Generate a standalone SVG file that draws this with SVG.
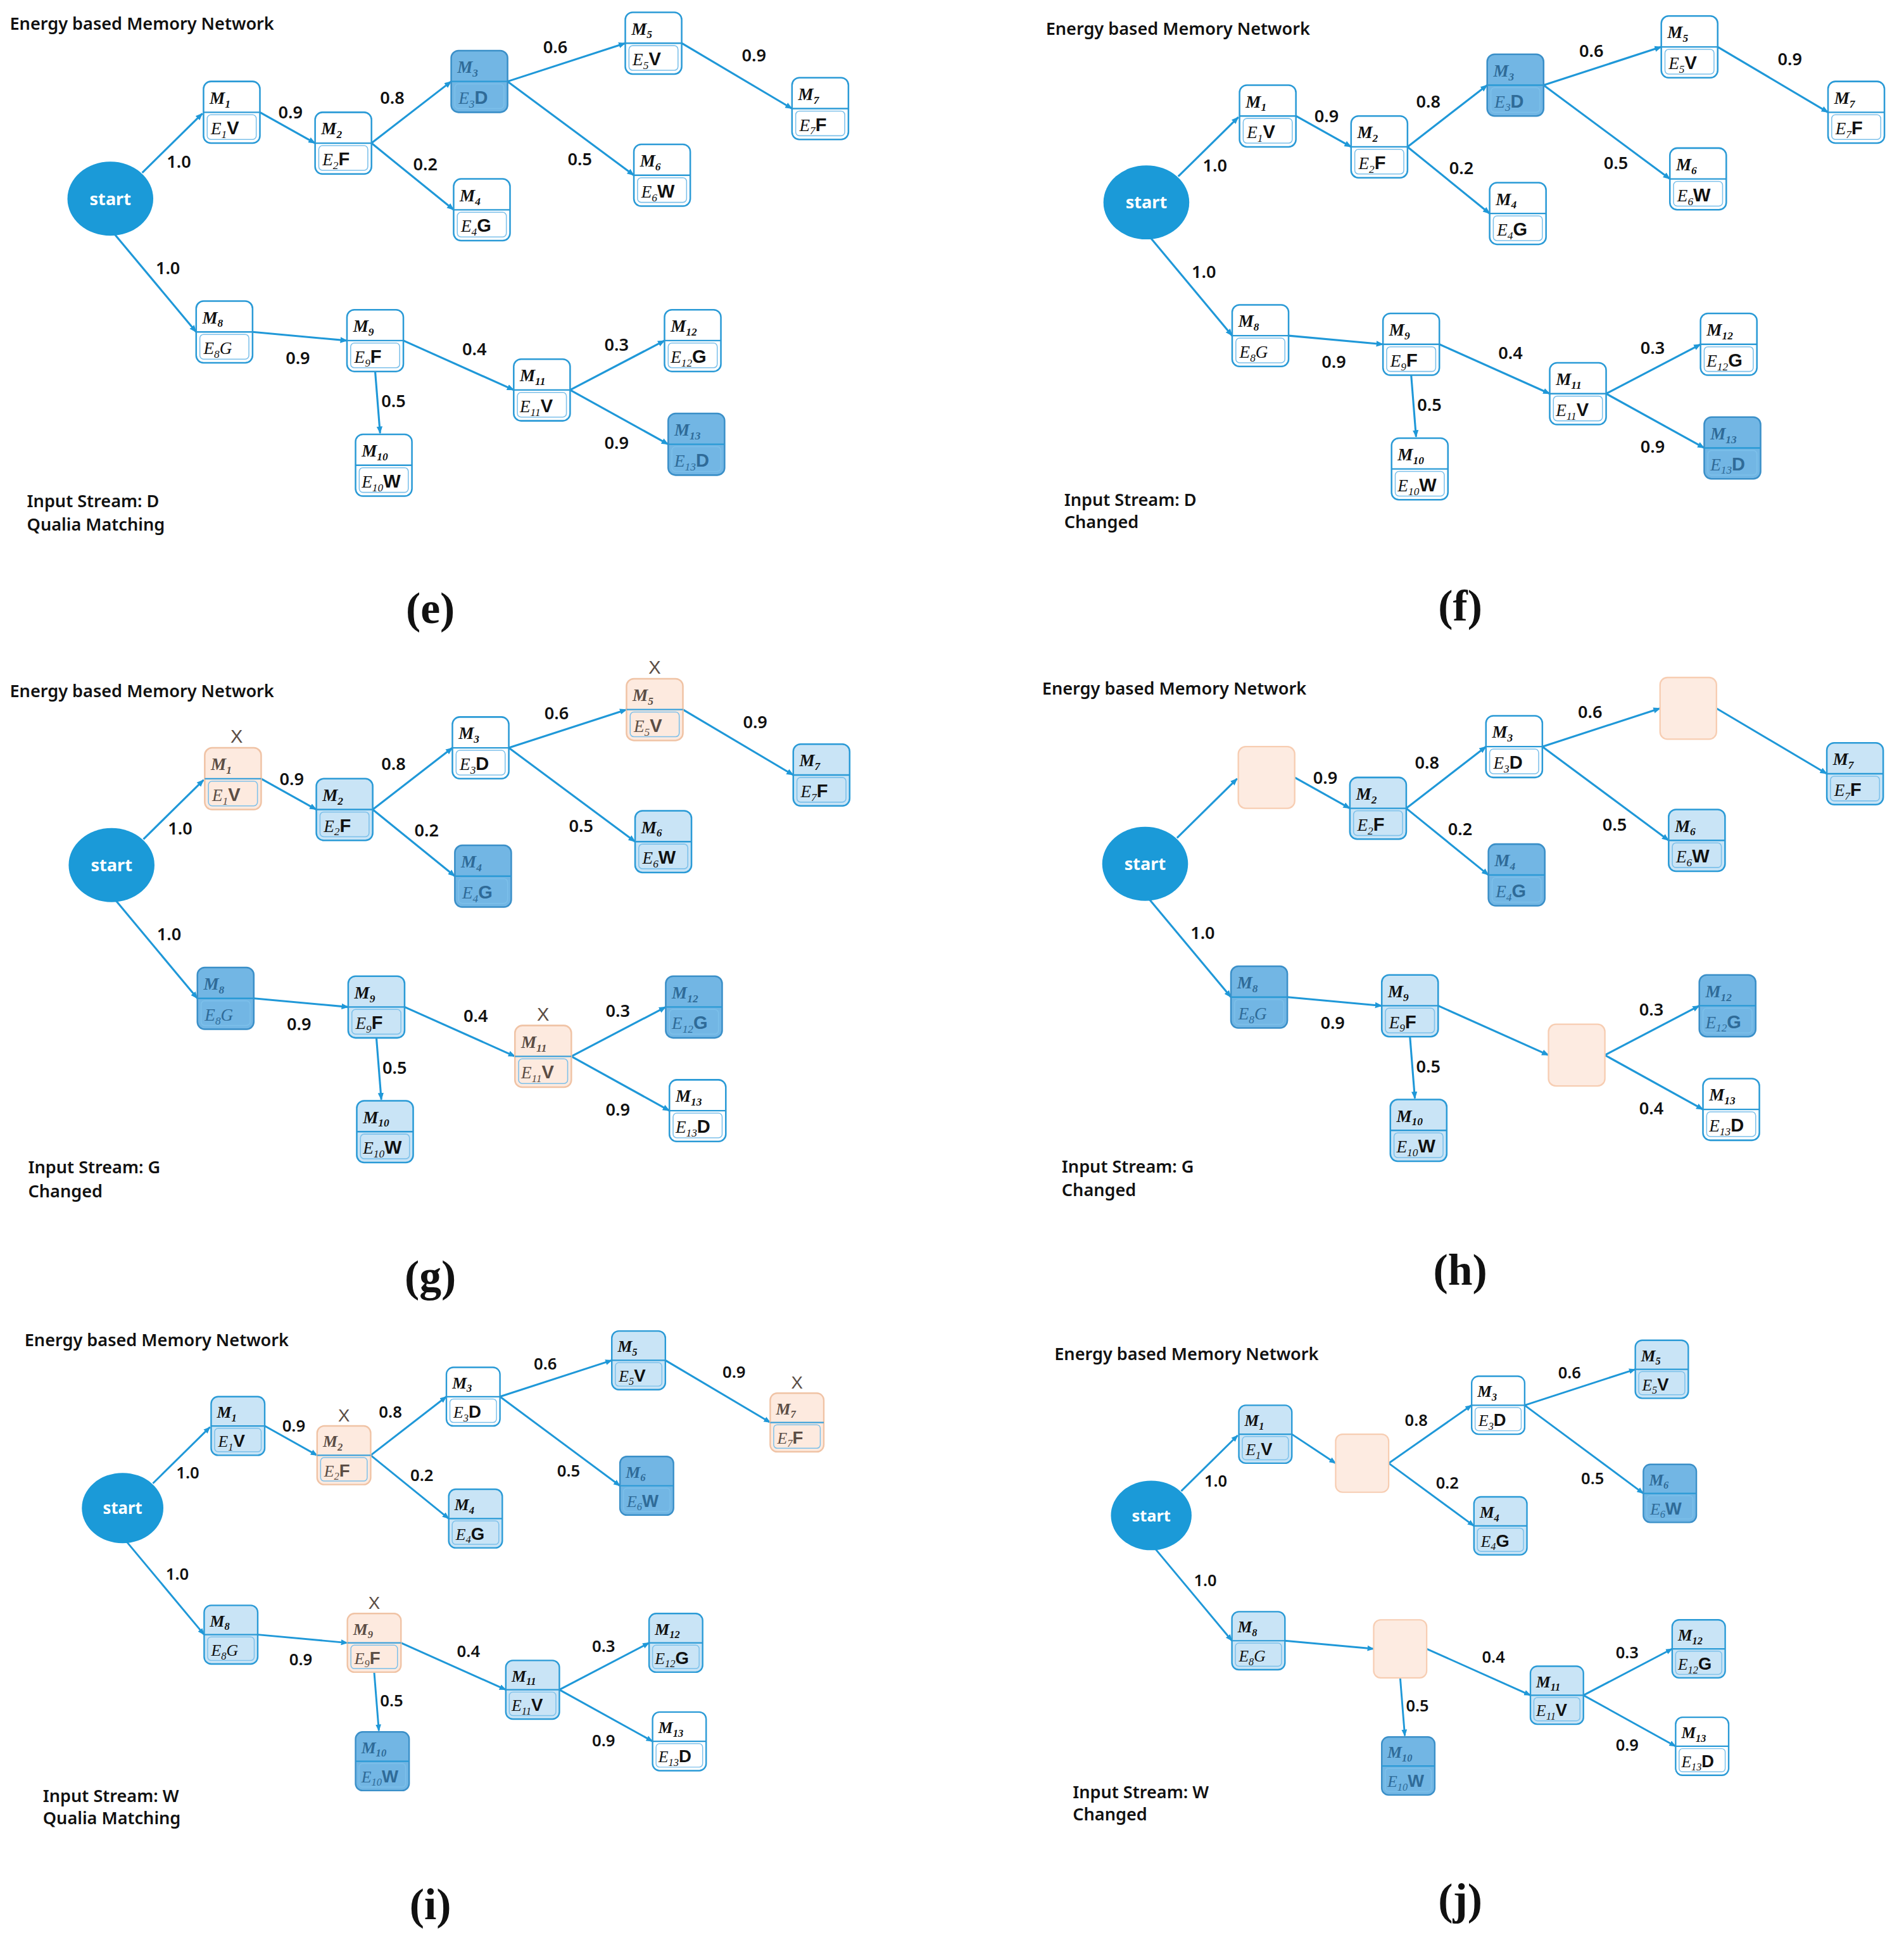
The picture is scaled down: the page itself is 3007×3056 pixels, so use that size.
<svg xmlns="http://www.w3.org/2000/svg" width="3007" height="3056" viewBox="0 0 3007 3056">
<style>
.o{stroke:#2a9ad6;stroke-width:1.3;fill:#fff}
.dv{stroke:#2a9ad6;stroke-width:1.2;fill:none}
.in{stroke:#7cc0ea;stroke-width:0.8;fill:none}
.l .o{fill:#c9e4f6}
.d .o{fill:#72b6e4;stroke:#3a8fc8}
.p .o{fill:#fdeadf;stroke:#f0c3a5}
.p .dv{stroke:#3aa0da}
.pe{fill:#fdebe1;stroke:#f7cdb2;stroke-width:1.2}
.m{font-family:"Liberation Serif",serif;font-style:italic;font-weight:bold;font-size:14px;fill:#111}
.e{font-family:"Liberation Serif",serif;font-style:italic;font-size:14px;fill:#111}
.s{font-size:9px}
.b{font-family:"Liberation Sans",sans-serif;font-style:normal;font-weight:bold;font-size:15px}
.d text{fill:#2f6b98}
.p text{fill:#5b4d45}
.x{font-family:"Liberation Sans",sans-serif;font-size:15px;fill:#e8191c;text-anchor:middle}
.ed{stroke:#1f98d8;stroke-width:1.6;fill:none;marker-end:url(#ah)}
.lb{font-family:"Noto Sans",sans-serif;font-size:14px;font-weight:600;fill:#111}
.tt{font-family:"Noto Sans",sans-serif;font-size:14px;font-weight:600;fill:#111}
.cap{font-family:"Liberation Serif",serif;font-size:36px;font-weight:bold;fill:#111;text-anchor:middle}
.st{fill:#1b9ad8}
.stt{font-family:"Noto Sans",sans-serif;font-size:14px;font-weight:bold;fill:#fff;text-anchor:middle}
</style>
<defs>
<marker id="ah" viewBox="0 0 10 10" refX="9" refY="5" markerWidth="6" markerHeight="6" markerUnits="userSpaceOnUse" orient="auto"><path d="M0,1L10,5L0,9z" fill="#1f98d8"/></marker>
</defs>
<rect width="3007" height="3056" fill="#fff"/>
<g transform="scale(1.9363,1.949)">
<!-- texts -->
<g id="texts">
<text class="tt" x="8" y="24">Energy based Memory Network</text>
<text class="tt" x="22" y="411">Input Stream: D</text><text class="tt" x="22" y="430">Qualia Matching</text>
<text class="cap" x="351" y="505">(e)</text>
<text class="tt" x="853" y="28">Energy based Memory Network</text>
<text class="tt" x="868" y="410">Input Stream: D</text><text class="tt" x="868" y="428">Changed</text>
<text class="cap" x="1191" y="503">(f)</text>
<text class="tt" x="8" y="565">Energy based Memory Network</text>
<text class="tt" x="23" y="951">Input Stream: G</text><text class="tt" x="23" y="970">Changed</text>
<text class="cap" x="351" y="1046">(g)</text>
<text class="tt" x="850" y="563">Energy based Memory Network</text>
<text class="tt" x="866" y="950">Input Stream: G</text><text class="tt" x="866" y="969">Changed</text>
<text class="cap" x="1191" y="1041">(h)</text>
<text class="tt" x="20" y="1091">Energy based Memory Network</text>
<text class="tt" x="35" y="1460">Input Stream: W</text><text class="tt" x="35" y="1478">Qualia Matching</text>
<text class="cap" x="351" y="1555">(i)</text>
<text class="tt" x="860" y="1102">Energy based Memory Network</text>
<text class="tt" x="875" y="1457">Input Stream: W</text><text class="tt" x="875" y="1475">Changed</text>
<text class="cap" x="1191" y="1551">(j)</text>
</g>

<!-- PANEL E -->
<g id="panel-e">
<g id="e-connectors">
<path class="ed" d="M116,140L165,92"/><path class="ed" d="M92,188L160,269"/><path class="ed" d="M212,91L257,116"/><path class="ed" d="M303,116L368,66"/><path class="ed" d="M303,116L370,170"/><path class="ed" d="M414,66L510,35"/><path class="ed" d="M414,66L517,142"/><path class="ed" d="M556,35L646,88"/><path class="ed" d="M206,269L283,276"/><path class="ed" d="M306,301L310,351"/><path class="ed" d="M329,276L419,316"/><path class="ed" d="M465,316L542,276"/><path class="ed" d="M465,316L545,360"/>
<text class="lb" x="136" y="136">1.0</text><text class="lb" x="127" y="222">1.0</text><text class="lb" x="227" y="96">0.9</text><text class="lb" x="310" y="84">0.8</text><text class="lb" x="337" y="138">0.2</text><text class="lb" x="443" y="43">0.6</text><text class="lb" x="463" y="134">0.5</text><text class="lb" x="605" y="50">0.9</text><text class="lb" x="233" y="295">0.9</text><text class="lb" x="311" y="330">0.5</text><text class="lb" x="377" y="288">0.4</text><text class="lb" x="493" y="284">0.3</text><text class="lb" x="493" y="364">0.9</text>
</g>
<g id="e-start"><ellipse class="st" cx="90" cy="161" rx="35" ry="30"/><text class="stt" x="90" y="166">start</text></g>
<g id="e-m1" class="w" transform="translate(166,66)"><rect class="o" width="46" height="50" rx="6"/><path class="dv" d="M0 25H46"/><rect class="in" x="3" y="27" width="40" height="20" rx="3"/><text class="m" x="5" y="18">M<tspan class="s" dy="3">1</tspan></text><text class="e" x="6" y="43">E<tspan class="s" dy="3">1</tspan><tspan class="b" dy="-3">V</tspan></text></g>
<g id="e-m2" class="w" transform="translate(257,91)"><rect class="o" width="46" height="50" rx="6"/><path class="dv" d="M0 25H46"/><rect class="in" x="3" y="27" width="40" height="20" rx="3"/><text class="m" x="5" y="18">M<tspan class="s" dy="3">2</tspan></text><text class="e" x="6" y="43">E<tspan class="s" dy="3">2</tspan><tspan class="b" dy="-3">F</tspan></text></g>
<g id="e-m3" class="d" transform="translate(368,41)"><rect class="o" width="46" height="50" rx="6"/><path class="dv" d="M0 25H46"/><rect class="in" x="3" y="27" width="40" height="20" rx="3"/><text class="m" x="5" y="18">M<tspan class="s" dy="3">3</tspan></text><text class="e" x="6" y="43">E<tspan class="s" dy="3">3</tspan><tspan class="b" dy="-3">D</tspan></text></g>
<g id="e-m4" class="w" transform="translate(370,145)"><rect class="o" width="46" height="50" rx="6"/><path class="dv" d="M0 25H46"/><rect class="in" x="3" y="27" width="40" height="20" rx="3"/><text class="m" x="5" y="18">M<tspan class="s" dy="3">4</tspan></text><text class="e" x="6" y="43">E<tspan class="s" dy="3">4</tspan><tspan class="b" dy="-3">G</tspan></text></g>
<g id="e-m5" class="w" transform="translate(510,10)"><rect class="o" width="46" height="50" rx="6"/><path class="dv" d="M0 25H46"/><rect class="in" x="3" y="27" width="40" height="20" rx="3"/><text class="m" x="5" y="18">M<tspan class="s" dy="3">5</tspan></text><text class="e" x="6" y="43">E<tspan class="s" dy="3">5</tspan><tspan class="b" dy="-3">V</tspan></text></g>
<g id="e-m6" class="w" transform="translate(517,117)"><rect class="o" width="46" height="50" rx="6"/><path class="dv" d="M0 25H46"/><rect class="in" x="3" y="27" width="40" height="20" rx="3"/><text class="m" x="5" y="18">M<tspan class="s" dy="3">6</tspan></text><text class="e" x="6" y="43">E<tspan class="s" dy="3">6</tspan><tspan class="b" dy="-3">W</tspan></text></g>
<g id="e-m7" class="w" transform="translate(646,63)"><rect class="o" width="46" height="50" rx="6"/><path class="dv" d="M0 25H46"/><rect class="in" x="3" y="27" width="40" height="20" rx="3"/><text class="m" x="5" y="18">M<tspan class="s" dy="3">7</tspan></text><text class="e" x="6" y="43">E<tspan class="s" dy="3">7</tspan><tspan class="b" dy="-3">F</tspan></text></g>
<g id="e-m8" class="w" transform="translate(160,244)"><rect class="o" width="46" height="50" rx="6"/><path class="dv" d="M0 25H46"/><rect class="in" x="3" y="27" width="40" height="20" rx="3"/><text class="m" x="5" y="18">M<tspan class="s" dy="3">8</tspan></text><text class="e" x="6" y="43">E<tspan class="s" dy="3">8</tspan><tspan dy="-3">G</tspan></text></g>
<g id="e-m9" class="w" transform="translate(283,251)"><rect class="o" width="46" height="50" rx="6"/><path class="dv" d="M0 25H46"/><rect class="in" x="3" y="27" width="40" height="20" rx="3"/><text class="m" x="5" y="18">M<tspan class="s" dy="3">9</tspan></text><text class="e" x="6" y="43">E<tspan class="s" dy="3">9</tspan><tspan class="b" dy="-3">F</tspan></text></g>
<g id="e-m10" class="w" transform="translate(290,352)"><rect class="o" width="46" height="50" rx="6"/><path class="dv" d="M0 25H46"/><rect class="in" x="3" y="27" width="40" height="20" rx="3"/><text class="m" x="5" y="18">M<tspan class="s" dy="3">10</tspan></text><text class="e" x="5" y="43">E<tspan class="s" dy="3">10</tspan><tspan class="b" dy="-3">W</tspan></text></g>
<g id="e-m11" class="w" transform="translate(419,291)"><rect class="o" width="46" height="50" rx="6"/><path class="dv" d="M0 25H46"/><rect class="in" x="3" y="27" width="40" height="20" rx="3"/><text class="m" x="5" y="18">M<tspan class="s" dy="3">11</tspan></text><text class="e" x="5" y="43">E<tspan class="s" dy="3">11</tspan><tspan class="b" dy="-3">V</tspan></text></g>
<g id="e-m12" class="w" transform="translate(542,251)"><rect class="o" width="46" height="50" rx="6"/><path class="dv" d="M0 25H46"/><rect class="in" x="3" y="27" width="40" height="20" rx="3"/><text class="m" x="5" y="18">M<tspan class="s" dy="3">12</tspan></text><text class="e" x="5" y="43">E<tspan class="s" dy="3">12</tspan><tspan class="b" dy="-3">G</tspan></text></g>
<g id="e-m13" class="d" transform="translate(545,335)"><rect class="o" width="46" height="50" rx="6"/><path class="dv" d="M0 25H46"/><rect class="in" x="3" y="27" width="40" height="20" rx="3"/><text class="m" x="5" y="18">M<tspan class="s" dy="3">13</tspan></text><text class="e" x="5" y="43">E<tspan class="s" dy="3">13</tspan><tspan class="b" dy="-3">D</tspan></text></g>
</g>

<!-- PANEL F -->
<g id="panel-f" transform="translate(845,3)">
<g id="f-connectors">
<path class="ed" d="M116,140L165,92"/><path class="ed" d="M92,188L160,269"/><path class="ed" d="M212,91L257,116"/><path class="ed" d="M303,116L368,66"/><path class="ed" d="M303,116L370,170"/><path class="ed" d="M414,66L510,35"/><path class="ed" d="M414,66L517,142"/><path class="ed" d="M556,35L646,88"/><path class="ed" d="M206,269L283,276"/><path class="ed" d="M306,301L310,351"/><path class="ed" d="M329,276L419,316"/><path class="ed" d="M465,316L542,276"/><path class="ed" d="M465,316L545,360"/>
<text class="lb" x="136" y="136">1.0</text><text class="lb" x="127" y="222">1.0</text><text class="lb" x="227" y="96">0.9</text><text class="lb" x="310" y="84">0.8</text><text class="lb" x="337" y="138">0.2</text><text class="lb" x="443" y="43">0.6</text><text class="lb" x="463" y="134">0.5</text><text class="lb" x="605" y="50">0.9</text><text class="lb" x="233" y="295">0.9</text><text class="lb" x="311" y="330">0.5</text><text class="lb" x="377" y="288">0.4</text><text class="lb" x="493" y="284">0.3</text><text class="lb" x="493" y="364">0.9</text>
</g>
<g id="f-start"><ellipse class="st" cx="90" cy="161" rx="35" ry="30"/><text class="stt" x="90" y="166">start</text></g>
<g id="f-m1" class="w" transform="translate(166,66)"><rect class="o" width="46" height="50" rx="6"/><path class="dv" d="M0 25H46"/><rect class="in" x="3" y="27" width="40" height="20" rx="3"/><text class="m" x="5" y="18">M<tspan class="s" dy="3">1</tspan></text><text class="e" x="6" y="43">E<tspan class="s" dy="3">1</tspan><tspan class="b" dy="-3">V</tspan></text></g>
<g id="f-m2" class="w" transform="translate(257,91)"><rect class="o" width="46" height="50" rx="6"/><path class="dv" d="M0 25H46"/><rect class="in" x="3" y="27" width="40" height="20" rx="3"/><text class="m" x="5" y="18">M<tspan class="s" dy="3">2</tspan></text><text class="e" x="6" y="43">E<tspan class="s" dy="3">2</tspan><tspan class="b" dy="-3">F</tspan></text></g>
<g id="f-m3" class="d" transform="translate(368,41)"><rect class="o" width="46" height="50" rx="6"/><path class="dv" d="M0 25H46"/><rect class="in" x="3" y="27" width="40" height="20" rx="3"/><text class="m" x="5" y="18">M<tspan class="s" dy="3">3</tspan></text><text class="e" x="6" y="43">E<tspan class="s" dy="3">3</tspan><tspan class="b" dy="-3">D</tspan></text></g>
<g id="f-m4" class="w" transform="translate(370,145)"><rect class="o" width="46" height="50" rx="6"/><path class="dv" d="M0 25H46"/><rect class="in" x="3" y="27" width="40" height="20" rx="3"/><text class="m" x="5" y="18">M<tspan class="s" dy="3">4</tspan></text><text class="e" x="6" y="43">E<tspan class="s" dy="3">4</tspan><tspan class="b" dy="-3">G</tspan></text></g>
<g id="f-m5" class="w" transform="translate(510,10)"><rect class="o" width="46" height="50" rx="6"/><path class="dv" d="M0 25H46"/><rect class="in" x="3" y="27" width="40" height="20" rx="3"/><text class="m" x="5" y="18">M<tspan class="s" dy="3">5</tspan></text><text class="e" x="6" y="43">E<tspan class="s" dy="3">5</tspan><tspan class="b" dy="-3">V</tspan></text></g>
<g id="f-m6" class="w" transform="translate(517,117)"><rect class="o" width="46" height="50" rx="6"/><path class="dv" d="M0 25H46"/><rect class="in" x="3" y="27" width="40" height="20" rx="3"/><text class="m" x="5" y="18">M<tspan class="s" dy="3">6</tspan></text><text class="e" x="6" y="43">E<tspan class="s" dy="3">6</tspan><tspan class="b" dy="-3">W</tspan></text></g>
<g id="f-m7" class="w" transform="translate(646,63)"><rect class="o" width="46" height="50" rx="6"/><path class="dv" d="M0 25H46"/><rect class="in" x="3" y="27" width="40" height="20" rx="3"/><text class="m" x="5" y="18">M<tspan class="s" dy="3">7</tspan></text><text class="e" x="6" y="43">E<tspan class="s" dy="3">7</tspan><tspan class="b" dy="-3">F</tspan></text></g>
<g id="f-m8" class="w" transform="translate(160,244)"><rect class="o" width="46" height="50" rx="6"/><path class="dv" d="M0 25H46"/><rect class="in" x="3" y="27" width="40" height="20" rx="3"/><text class="m" x="5" y="18">M<tspan class="s" dy="3">8</tspan></text><text class="e" x="6" y="43">E<tspan class="s" dy="3">8</tspan><tspan dy="-3">G</tspan></text></g>
<g id="f-m9" class="w" transform="translate(283,251)"><rect class="o" width="46" height="50" rx="6"/><path class="dv" d="M0 25H46"/><rect class="in" x="3" y="27" width="40" height="20" rx="3"/><text class="m" x="5" y="18">M<tspan class="s" dy="3">9</tspan></text><text class="e" x="6" y="43">E<tspan class="s" dy="3">9</tspan><tspan class="b" dy="-3">F</tspan></text></g>
<g id="f-m10" class="w" transform="translate(290,352)"><rect class="o" width="46" height="50" rx="6"/><path class="dv" d="M0 25H46"/><rect class="in" x="3" y="27" width="40" height="20" rx="3"/><text class="m" x="5" y="18">M<tspan class="s" dy="3">10</tspan></text><text class="e" x="5" y="43">E<tspan class="s" dy="3">10</tspan><tspan class="b" dy="-3">W</tspan></text></g>
<g id="f-m11" class="w" transform="translate(419,291)"><rect class="o" width="46" height="50" rx="6"/><path class="dv" d="M0 25H46"/><rect class="in" x="3" y="27" width="40" height="20" rx="3"/><text class="m" x="5" y="18">M<tspan class="s" dy="3">11</tspan></text><text class="e" x="5" y="43">E<tspan class="s" dy="3">11</tspan><tspan class="b" dy="-3">V</tspan></text></g>
<g id="f-m12" class="w" transform="translate(542,251)"><rect class="o" width="46" height="50" rx="6"/><path class="dv" d="M0 25H46"/><rect class="in" x="3" y="27" width="40" height="20" rx="3"/><text class="m" x="5" y="18">M<tspan class="s" dy="3">12</tspan></text><text class="e" x="5" y="43">E<tspan class="s" dy="3">12</tspan><tspan class="b" dy="-3">G</tspan></text></g>
<g id="f-m13" class="d" transform="translate(545,335)"><rect class="o" width="46" height="50" rx="6"/><path class="dv" d="M0 25H46"/><rect class="in" x="3" y="27" width="40" height="20" rx="3"/><text class="m" x="5" y="18">M<tspan class="s" dy="3">13</tspan></text><text class="e" x="5" y="43">E<tspan class="s" dy="3">13</tspan><tspan class="b" dy="-3">D</tspan></text></g>
</g>

<!-- PANEL G -->
<g id="panel-g" transform="translate(1,540)">
<g id="g-connectors">
<path class="ed" d="M116,140L165,92"/><path class="ed" d="M92,188L160,269"/><path class="ed" d="M212,91L257,116"/><path class="ed" d="M303,116L368,66"/><path class="ed" d="M303,116L370,170"/><path class="ed" d="M414,66L510,35"/><path class="ed" d="M414,66L517,142"/><path class="ed" d="M556,35L646,88"/><path class="ed" d="M206,269L283,276"/><path class="ed" d="M306,301L310,351"/><path class="ed" d="M329,276L419,316"/><path class="ed" d="M465,316L542,276"/><path class="ed" d="M465,316L545,360"/>
<text class="lb" x="136" y="136">1.0</text><text class="lb" x="127" y="222">1.0</text><text class="lb" x="227" y="96">0.9</text><text class="lb" x="310" y="84">0.8</text><text class="lb" x="337" y="138">0.2</text><text class="lb" x="443" y="43">0.6</text><text class="lb" x="463" y="134">0.5</text><text class="lb" x="605" y="50">0.9</text><text class="lb" x="233" y="295">0.9</text><text class="lb" x="311" y="330">0.5</text><text class="lb" x="377" y="288">0.4</text><text class="lb" x="493" y="284">0.3</text><text class="lb" x="493" y="364">0.9</text>
</g>
<g id="g-start"><ellipse class="st" cx="90" cy="161" rx="35" ry="30"/><text class="stt" x="90" y="166">start</text></g>
<g id="g-m1" class="p" transform="translate(166,66)"><rect class="o" width="46" height="50" rx="6"/><path class="dv" d="M0 25H46"/><rect class="in" x="3" y="27" width="40" height="20" rx="3"/><text class="m" x="5" y="18">M<tspan class="s" dy="3">1</tspan></text><text class="e" x="6" y="43">E<tspan class="s" dy="3">1</tspan><tspan class="b" dy="-3">V</tspan></text><text class="x" x="26" y="-4">X</text></g>
<g id="g-m2" class="l" transform="translate(257,91)"><rect class="o" width="46" height="50" rx="6"/><path class="dv" d="M0 25H46"/><rect class="in" x="3" y="27" width="40" height="20" rx="3"/><text class="m" x="5" y="18">M<tspan class="s" dy="3">2</tspan></text><text class="e" x="6" y="43">E<tspan class="s" dy="3">2</tspan><tspan class="b" dy="-3">F</tspan></text></g>
<g id="g-m3" class="w" transform="translate(368,41)"><rect class="o" width="46" height="50" rx="6"/><path class="dv" d="M0 25H46"/><rect class="in" x="3" y="27" width="40" height="20" rx="3"/><text class="m" x="5" y="18">M<tspan class="s" dy="3">3</tspan></text><text class="e" x="6" y="43">E<tspan class="s" dy="3">3</tspan><tspan class="b" dy="-3">D</tspan></text></g>
<g id="g-m4" class="d" transform="translate(370,145)"><rect class="o" width="46" height="50" rx="6"/><path class="dv" d="M0 25H46"/><rect class="in" x="3" y="27" width="40" height="20" rx="3"/><text class="m" x="5" y="18">M<tspan class="s" dy="3">4</tspan></text><text class="e" x="6" y="43">E<tspan class="s" dy="3">4</tspan><tspan class="b" dy="-3">G</tspan></text></g>
<g id="g-m5" class="p" transform="translate(510,10)"><rect class="o" width="46" height="50" rx="6"/><path class="dv" d="M0 25H46"/><rect class="in" x="3" y="27" width="40" height="20" rx="3"/><text class="m" x="5" y="18">M<tspan class="s" dy="3">5</tspan></text><text class="e" x="6" y="43">E<tspan class="s" dy="3">5</tspan><tspan class="b" dy="-3">V</tspan></text><text class="x" x="23" y="-4">X</text></g>
<g id="g-m6" class="l" transform="translate(517,117)"><rect class="o" width="46" height="50" rx="6"/><path class="dv" d="M0 25H46"/><rect class="in" x="3" y="27" width="40" height="20" rx="3"/><text class="m" x="5" y="18">M<tspan class="s" dy="3">6</tspan></text><text class="e" x="6" y="43">E<tspan class="s" dy="3">6</tspan><tspan class="b" dy="-3">W</tspan></text></g>
<g id="g-m7" class="l" transform="translate(646,63)"><rect class="o" width="46" height="50" rx="6"/><path class="dv" d="M0 25H46"/><rect class="in" x="3" y="27" width="40" height="20" rx="3"/><text class="m" x="5" y="18">M<tspan class="s" dy="3">7</tspan></text><text class="e" x="6" y="43">E<tspan class="s" dy="3">7</tspan><tspan class="b" dy="-3">F</tspan></text></g>
<g id="g-m8" class="d" transform="translate(160,244)"><rect class="o" width="46" height="50" rx="6"/><path class="dv" d="M0 25H46"/><rect class="in" x="3" y="27" width="40" height="20" rx="3"/><text class="m" x="5" y="18">M<tspan class="s" dy="3">8</tspan></text><text class="e" x="6" y="43">E<tspan class="s" dy="3">8</tspan><tspan dy="-3">G</tspan></text></g>
<g id="g-m9" class="l" transform="translate(283,251)"><rect class="o" width="46" height="50" rx="6"/><path class="dv" d="M0 25H46"/><rect class="in" x="3" y="27" width="40" height="20" rx="3"/><text class="m" x="5" y="18">M<tspan class="s" dy="3">9</tspan></text><text class="e" x="6" y="43">E<tspan class="s" dy="3">9</tspan><tspan class="b" dy="-3">F</tspan></text></g>
<g id="g-m10" class="l" transform="translate(290,352)"><rect class="o" width="46" height="50" rx="6"/><path class="dv" d="M0 25H46"/><rect class="in" x="3" y="27" width="40" height="20" rx="3"/><text class="m" x="5" y="18">M<tspan class="s" dy="3">10</tspan></text><text class="e" x="5" y="43">E<tspan class="s" dy="3">10</tspan><tspan class="b" dy="-3">W</tspan></text></g>
<g id="g-m11" class="p" transform="translate(419,291)"><rect class="o" width="46" height="50" rx="6"/><path class="dv" d="M0 25H46"/><rect class="in" x="3" y="27" width="40" height="20" rx="3"/><text class="m" x="5" y="18">M<tspan class="s" dy="3">11</tspan></text><text class="e" x="5" y="43">E<tspan class="s" dy="3">11</tspan><tspan class="b" dy="-3">V</tspan></text><text class="x" x="23" y="-4">X</text></g>
<g id="g-m12" class="d" transform="translate(542,251)"><rect class="o" width="46" height="50" rx="6"/><path class="dv" d="M0 25H46"/><rect class="in" x="3" y="27" width="40" height="20" rx="3"/><text class="m" x="5" y="18">M<tspan class="s" dy="3">12</tspan></text><text class="e" x="5" y="43">E<tspan class="s" dy="3">12</tspan><tspan class="b" dy="-3">G</tspan></text></g>
<g id="g-m13" class="w" transform="translate(545,335)"><rect class="o" width="46" height="50" rx="6"/><path class="dv" d="M0 25H46"/><rect class="in" x="3" y="27" width="40" height="20" rx="3"/><text class="m" x="5" y="18">M<tspan class="s" dy="3">13</tspan></text><text class="e" x="5" y="43">E<tspan class="s" dy="3">13</tspan><tspan class="b" dy="-3">D</tspan></text></g>
</g>

<!-- PANEL H -->
<g id="panel-h" transform="translate(844,539)">
<g id="h-connectors">
<path class="ed" d="M116,140L165,92"/><path class="ed" d="M92,188L160,269"/><path class="ed" d="M212,91L257,116"/><path class="ed" d="M303,116L368,66"/><path class="ed" d="M303,116L370,170"/><path class="ed" d="M414,66L510,35"/><path class="ed" d="M414,66L517,142"/><path class="ed" d="M556,35L646,88"/><path class="ed" d="M206,269L283,276"/><path class="ed" d="M306,301L310,351"/><path class="ed" d="M329,276L419,316"/><path class="ed" d="M465,316L542,276"/><path class="ed" d="M465,316L545,360"/>
<text class="lb" x="127" y="222">1.0</text><text class="lb" x="227" y="96">0.9</text><text class="lb" x="310" y="84">0.8</text><text class="lb" x="337" y="138">0.2</text><text class="lb" x="443" y="43">0.6</text><text class="lb" x="463" y="134">0.5</text><text class="lb" x="233" y="295">0.9</text><text class="lb" x="311" y="330">0.5</text><text class="lb" x="493" y="284">0.3</text><text class="lb" x="493" y="364">0.4</text>
</g>
<g id="h-start"><ellipse class="st" cx="90" cy="161" rx="35" ry="30"/><text class="stt" x="90" y="166">start</text></g>
<g id="h-m1"><rect class="pe" x="166" y="66" width="46" height="50" rx="6"/></g>
<g id="h-m2" class="l" transform="translate(257,91)"><rect class="o" width="46" height="50" rx="6"/><path class="dv" d="M0 25H46"/><rect class="in" x="3" y="27" width="40" height="20" rx="3"/><text class="m" x="5" y="18">M<tspan class="s" dy="3">2</tspan></text><text class="e" x="6" y="43">E<tspan class="s" dy="3">2</tspan><tspan class="b" dy="-3">F</tspan></text></g>
<g id="h-m3" class="w" transform="translate(368,41)"><rect class="o" width="46" height="50" rx="6"/><path class="dv" d="M0 25H46"/><rect class="in" x="3" y="27" width="40" height="20" rx="3"/><text class="m" x="5" y="18">M<tspan class="s" dy="3">3</tspan></text><text class="e" x="6" y="43">E<tspan class="s" dy="3">3</tspan><tspan class="b" dy="-3">D</tspan></text></g>
<g id="h-m4" class="d" transform="translate(370,145)"><rect class="o" width="46" height="50" rx="6"/><path class="dv" d="M0 25H46"/><rect class="in" x="3" y="27" width="40" height="20" rx="3"/><text class="m" x="5" y="18">M<tspan class="s" dy="3">4</tspan></text><text class="e" x="6" y="43">E<tspan class="s" dy="3">4</tspan><tspan class="b" dy="-3">G</tspan></text></g>
<g id="h-m5"><rect class="pe" x="510" y="10" width="46" height="50" rx="6"/></g>
<g id="h-m6" class="l" transform="translate(517,117)"><rect class="o" width="46" height="50" rx="6"/><path class="dv" d="M0 25H46"/><rect class="in" x="3" y="27" width="40" height="20" rx="3"/><text class="m" x="5" y="18">M<tspan class="s" dy="3">6</tspan></text><text class="e" x="6" y="43">E<tspan class="s" dy="3">6</tspan><tspan class="b" dy="-3">W</tspan></text></g>
<g id="h-m7" class="l" transform="translate(646,63)"><rect class="o" width="46" height="50" rx="6"/><path class="dv" d="M0 25H46"/><rect class="in" x="3" y="27" width="40" height="20" rx="3"/><text class="m" x="5" y="18">M<tspan class="s" dy="3">7</tspan></text><text class="e" x="6" y="43">E<tspan class="s" dy="3">7</tspan><tspan class="b" dy="-3">F</tspan></text></g>
<g id="h-m8" class="d" transform="translate(160,244)"><rect class="o" width="46" height="50" rx="6"/><path class="dv" d="M0 25H46"/><rect class="in" x="3" y="27" width="40" height="20" rx="3"/><text class="m" x="5" y="18">M<tspan class="s" dy="3">8</tspan></text><text class="e" x="6" y="43">E<tspan class="s" dy="3">8</tspan><tspan dy="-3">G</tspan></text></g>
<g id="h-m9" class="l" transform="translate(283,251)"><rect class="o" width="46" height="50" rx="6"/><path class="dv" d="M0 25H46"/><rect class="in" x="3" y="27" width="40" height="20" rx="3"/><text class="m" x="5" y="18">M<tspan class="s" dy="3">9</tspan></text><text class="e" x="6" y="43">E<tspan class="s" dy="3">9</tspan><tspan class="b" dy="-3">F</tspan></text></g>
<g id="h-m10" class="l" transform="translate(290,352)"><rect class="o" width="46" height="50" rx="6"/><path class="dv" d="M0 25H46"/><rect class="in" x="3" y="27" width="40" height="20" rx="3"/><text class="m" x="5" y="18">M<tspan class="s" dy="3">10</tspan></text><text class="e" x="5" y="43">E<tspan class="s" dy="3">10</tspan><tspan class="b" dy="-3">W</tspan></text></g>
<g id="h-m11"><rect class="pe" x="419" y="291" width="46" height="50" rx="6"/></g>
<g id="h-m12" class="d" transform="translate(542,251)"><rect class="o" width="46" height="50" rx="6"/><path class="dv" d="M0 25H46"/><rect class="in" x="3" y="27" width="40" height="20" rx="3"/><text class="m" x="5" y="18">M<tspan class="s" dy="3">12</tspan></text><text class="e" x="5" y="43">E<tspan class="s" dy="3">12</tspan><tspan class="b" dy="-3">G</tspan></text></g>
<g id="h-m13" class="w" transform="translate(545,335)"><rect class="o" width="46" height="50" rx="6"/><path class="dv" d="M0 25H46"/><rect class="in" x="3" y="27" width="40" height="20" rx="3"/><text class="m" x="5" y="18">M<tspan class="s" dy="3">13</tspan></text><text class="e" x="5" y="43">E<tspan class="s" dy="3">13</tspan><tspan class="b" dy="-3">D</tspan></text></g>
</g>

<!-- PANEL I -->
<g id="panel-i" transform="translate(100,1222) scale(0.95) translate(-90,-161)">
<g id="i-connectors">
<path class="ed" d="M116,140L165,92"/><path class="ed" d="M92,188L160,269"/><path class="ed" d="M212,91L257,116"/><path class="ed" d="M303,116L368,66"/><path class="ed" d="M303,116L370,170"/><path class="ed" d="M414,66L510,35"/><path class="ed" d="M414,66L517,142"/><path class="ed" d="M556,35L646,88"/><path class="ed" d="M206,269L283,276"/><path class="ed" d="M306,301L310,351"/><path class="ed" d="M329,276L419,316"/><path class="ed" d="M465,316L542,276"/><path class="ed" d="M465,316L545,360"/>
<text class="lb" x="136" y="136">1.0</text><text class="lb" x="127" y="222">1.0</text><text class="lb" x="227" y="96">0.9</text><text class="lb" x="310" y="84">0.8</text><text class="lb" x="337" y="138">0.2</text><text class="lb" x="443" y="43">0.6</text><text class="lb" x="463" y="134">0.5</text><text class="lb" x="605" y="50">0.9</text><text class="lb" x="233" y="295">0.9</text><text class="lb" x="311" y="330">0.5</text><text class="lb" x="377" y="288">0.4</text><text class="lb" x="493" y="284">0.3</text><text class="lb" x="493" y="364">0.9</text>
</g>
<g id="i-start"><ellipse class="st" cx="90" cy="161" rx="35" ry="30"/><text class="stt" x="90" y="166">start</text></g>
<g id="i-m1" class="l" transform="translate(166,66)"><rect class="o" width="46" height="50" rx="6"/><path class="dv" d="M0 25H46"/><rect class="in" x="3" y="27" width="40" height="20" rx="3"/><text class="m" x="5" y="18">M<tspan class="s" dy="3">1</tspan></text><text class="e" x="6" y="43">E<tspan class="s" dy="3">1</tspan><tspan class="b" dy="-3">V</tspan></text></g>
<g id="i-m2" class="p" transform="translate(257,91)"><rect class="o" width="46" height="50" rx="6"/><path class="dv" d="M0 25H46"/><rect class="in" x="3" y="27" width="40" height="20" rx="3"/><text class="m" x="5" y="18">M<tspan class="s" dy="3">2</tspan></text><text class="e" x="6" y="43">E<tspan class="s" dy="3">2</tspan><tspan class="b" dy="-3">F</tspan></text><text class="x" x="23" y="-4">X</text></g>
<g id="i-m3" class="w" transform="translate(368,41)"><rect class="o" width="46" height="50" rx="6"/><path class="dv" d="M0 25H46"/><rect class="in" x="3" y="27" width="40" height="20" rx="3"/><text class="m" x="5" y="18">M<tspan class="s" dy="3">3</tspan></text><text class="e" x="6" y="43">E<tspan class="s" dy="3">3</tspan><tspan class="b" dy="-3">D</tspan></text></g>
<g id="i-m4" class="l" transform="translate(370,145)"><rect class="o" width="46" height="50" rx="6"/><path class="dv" d="M0 25H46"/><rect class="in" x="3" y="27" width="40" height="20" rx="3"/><text class="m" x="5" y="18">M<tspan class="s" dy="3">4</tspan></text><text class="e" x="6" y="43">E<tspan class="s" dy="3">4</tspan><tspan class="b" dy="-3">G</tspan></text></g>
<g id="i-m5" class="l" transform="translate(510,10)"><rect class="o" width="46" height="50" rx="6"/><path class="dv" d="M0 25H46"/><rect class="in" x="3" y="27" width="40" height="20" rx="3"/><text class="m" x="5" y="18">M<tspan class="s" dy="3">5</tspan></text><text class="e" x="6" y="43">E<tspan class="s" dy="3">5</tspan><tspan class="b" dy="-3">V</tspan></text></g>
<g id="i-m6" class="d" transform="translate(517,117)"><rect class="o" width="46" height="50" rx="6"/><path class="dv" d="M0 25H46"/><rect class="in" x="3" y="27" width="40" height="20" rx="3"/><text class="m" x="5" y="18">M<tspan class="s" dy="3">6</tspan></text><text class="e" x="6" y="43">E<tspan class="s" dy="3">6</tspan><tspan class="b" dy="-3">W</tspan></text></g>
<g id="i-m7" class="p" transform="translate(646,63)"><rect class="o" width="46" height="50" rx="6"/><path class="dv" d="M0 25H46"/><rect class="in" x="3" y="27" width="40" height="20" rx="3"/><text class="m" x="5" y="18">M<tspan class="s" dy="3">7</tspan></text><text class="e" x="6" y="43">E<tspan class="s" dy="3">7</tspan><tspan class="b" dy="-3">F</tspan></text><text class="x" x="23" y="-4">X</text></g>
<g id="i-m8" class="l" transform="translate(160,244)"><rect class="o" width="46" height="50" rx="6"/><path class="dv" d="M0 25H46"/><rect class="in" x="3" y="27" width="40" height="20" rx="3"/><text class="m" x="5" y="18">M<tspan class="s" dy="3">8</tspan></text><text class="e" x="6" y="43">E<tspan class="s" dy="3">8</tspan><tspan dy="-3">G</tspan></text></g>
<g id="i-m9" class="p" transform="translate(283,251)"><rect class="o" width="46" height="50" rx="6"/><path class="dv" d="M0 25H46"/><rect class="in" x="3" y="27" width="40" height="20" rx="3"/><text class="m" x="5" y="18">M<tspan class="s" dy="3">9</tspan></text><text class="e" x="6" y="43">E<tspan class="s" dy="3">9</tspan><tspan class="b" dy="-3">F</tspan></text><text class="x" x="23" y="-4">X</text></g>
<g id="i-m10" class="d" transform="translate(290,352)"><rect class="o" width="46" height="50" rx="6"/><path class="dv" d="M0 25H46"/><rect class="in" x="3" y="27" width="40" height="20" rx="3"/><text class="m" x="5" y="18">M<tspan class="s" dy="3">10</tspan></text><text class="e" x="5" y="43">E<tspan class="s" dy="3">10</tspan><tspan class="b" dy="-3">W</tspan></text></g>
<g id="i-m11" class="l" transform="translate(419,291)"><rect class="o" width="46" height="50" rx="6"/><path class="dv" d="M0 25H46"/><rect class="in" x="3" y="27" width="40" height="20" rx="3"/><text class="m" x="5" y="18">M<tspan class="s" dy="3">11</tspan></text><text class="e" x="5" y="43">E<tspan class="s" dy="3">11</tspan><tspan class="b" dy="-3">V</tspan></text></g>
<g id="i-m12" class="l" transform="translate(542,251)"><rect class="o" width="46" height="50" rx="6"/><path class="dv" d="M0 25H46"/><rect class="in" x="3" y="27" width="40" height="20" rx="3"/><text class="m" x="5" y="18">M<tspan class="s" dy="3">12</tspan></text><text class="e" x="5" y="43">E<tspan class="s" dy="3">12</tspan><tspan class="b" dy="-3">G</tspan></text></g>
<g id="i-m13" class="w" transform="translate(545,335)"><rect class="o" width="46" height="50" rx="6"/><path class="dv" d="M0 25H46"/><rect class="in" x="3" y="27" width="40" height="20" rx="3"/><text class="m" x="5" y="18">M<tspan class="s" dy="3">13</tspan></text><text class="e" x="5" y="43">E<tspan class="s" dy="3">13</tspan><tspan class="b" dy="-3">D</tspan></text></g>
</g>

<!-- PANEL J -->
<g id="panel-j" transform="translate(939,1228) scale(0.94) translate(-90,-161)">
<g id="j-connectors">
<path class="ed" d="M116,140L165,92"/><path class="ed" d="M92,188L160,269"/><path class="ed" d="M212,91L250,116"/><path class="ed" d="M296,116L368,66"/><path class="ed" d="M296,116L370,170"/><path class="ed" d="M414,66L510,35"/><path class="ed" d="M414,66L517,142"/><path class="ed" d="M206,269L283,276"/><path class="ed" d="M306,301L310,351"/><path class="ed" d="M329,276L419,316"/><path class="ed" d="M465,316L542,276"/><path class="ed" d="M465,316L545,360"/>
<text class="lb" x="136" y="136">1.0</text><text class="lb" x="127" y="222">1.0</text><text class="lb" x="310" y="84">0.8</text><text class="lb" x="337" y="138">0.2</text><text class="lb" x="443" y="43">0.6</text><text class="lb" x="463" y="134">0.5</text><text class="lb" x="311" y="330">0.5</text><text class="lb" x="377" y="288">0.4</text><text class="lb" x="493" y="284">0.3</text><text class="lb" x="493" y="364">0.9</text>
</g>
<g id="j-start"><ellipse class="st" cx="90" cy="161" rx="35" ry="30"/><text class="stt" x="90" y="166">start</text></g>
<g id="j-m1" class="l" transform="translate(166,66)"><rect class="o" width="46" height="50" rx="6"/><path class="dv" d="M0 25H46"/><rect class="in" x="3" y="27" width="40" height="20" rx="3"/><text class="m" x="5" y="18">M<tspan class="s" dy="3">1</tspan></text><text class="e" x="6" y="43">E<tspan class="s" dy="3">1</tspan><tspan class="b" dy="-3">V</tspan></text></g>
<g id="j-m2"><rect class="pe" x="250" y="91" width="46" height="50" rx="6"/></g>
<g id="j-m3" class="w" transform="translate(368,41)"><rect class="o" width="46" height="50" rx="6"/><path class="dv" d="M0 25H46"/><rect class="in" x="3" y="27" width="40" height="20" rx="3"/><text class="m" x="5" y="18">M<tspan class="s" dy="3">3</tspan></text><text class="e" x="6" y="43">E<tspan class="s" dy="3">3</tspan><tspan class="b" dy="-3">D</tspan></text></g>
<g id="j-m4" class="l" transform="translate(370,145)"><rect class="o" width="46" height="50" rx="6"/><path class="dv" d="M0 25H46"/><rect class="in" x="3" y="27" width="40" height="20" rx="3"/><text class="m" x="5" y="18">M<tspan class="s" dy="3">4</tspan></text><text class="e" x="6" y="43">E<tspan class="s" dy="3">4</tspan><tspan class="b" dy="-3">G</tspan></text></g>
<g id="j-m5" class="l" transform="translate(510,10)"><rect class="o" width="46" height="50" rx="6"/><path class="dv" d="M0 25H46"/><rect class="in" x="3" y="27" width="40" height="20" rx="3"/><text class="m" x="5" y="18">M<tspan class="s" dy="3">5</tspan></text><text class="e" x="6" y="43">E<tspan class="s" dy="3">5</tspan><tspan class="b" dy="-3">V</tspan></text></g>
<g id="j-m6" class="d" transform="translate(517,117)"><rect class="o" width="46" height="50" rx="6"/><path class="dv" d="M0 25H46"/><rect class="in" x="3" y="27" width="40" height="20" rx="3"/><text class="m" x="5" y="18">M<tspan class="s" dy="3">6</tspan></text><text class="e" x="6" y="43">E<tspan class="s" dy="3">6</tspan><tspan class="b" dy="-3">W</tspan></text></g>
<g id="j-m8" class="l" transform="translate(160,244)"><rect class="o" width="46" height="50" rx="6"/><path class="dv" d="M0 25H46"/><rect class="in" x="3" y="27" width="40" height="20" rx="3"/><text class="m" x="5" y="18">M<tspan class="s" dy="3">8</tspan></text><text class="e" x="6" y="43">E<tspan class="s" dy="3">8</tspan><tspan dy="-3">G</tspan></text></g>
<g id="j-m9"><rect class="pe" x="283" y="251" width="46" height="50" rx="6"/></g>
<g id="j-m10" class="d" transform="translate(290,352)"><rect class="o" width="46" height="50" rx="6"/><path class="dv" d="M0 25H46"/><rect class="in" x="3" y="27" width="40" height="20" rx="3"/><text class="m" x="5" y="18">M<tspan class="s" dy="3">10</tspan></text><text class="e" x="5" y="43">E<tspan class="s" dy="3">10</tspan><tspan class="b" dy="-3">W</tspan></text></g>
<g id="j-m11" class="l" transform="translate(419,291)"><rect class="o" width="46" height="50" rx="6"/><path class="dv" d="M0 25H46"/><rect class="in" x="3" y="27" width="40" height="20" rx="3"/><text class="m" x="5" y="18">M<tspan class="s" dy="3">11</tspan></text><text class="e" x="5" y="43">E<tspan class="s" dy="3">11</tspan><tspan class="b" dy="-3">V</tspan></text></g>
<g id="j-m12" class="l" transform="translate(542,251)"><rect class="o" width="46" height="50" rx="6"/><path class="dv" d="M0 25H46"/><rect class="in" x="3" y="27" width="40" height="20" rx="3"/><text class="m" x="5" y="18">M<tspan class="s" dy="3">12</tspan></text><text class="e" x="5" y="43">E<tspan class="s" dy="3">12</tspan><tspan class="b" dy="-3">G</tspan></text></g>
<g id="j-m13" class="w" transform="translate(545,335)"><rect class="o" width="46" height="50" rx="6"/><path class="dv" d="M0 25H46"/><rect class="in" x="3" y="27" width="40" height="20" rx="3"/><text class="m" x="5" y="18">M<tspan class="s" dy="3">13</tspan></text><text class="e" x="5" y="43">E<tspan class="s" dy="3">13</tspan><tspan class="b" dy="-3">D</tspan></text></g>
</g>
</g>
</svg>
